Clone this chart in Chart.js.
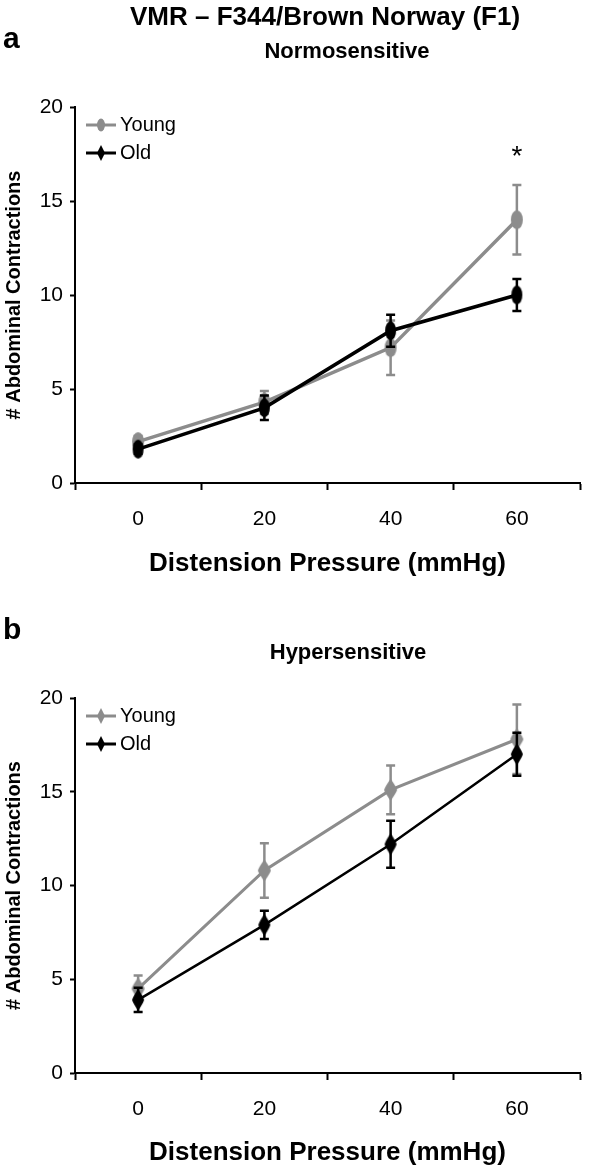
<!DOCTYPE html>
<html><head><meta charset="utf-8">
<script src="https://cdn.jsdelivr.net/npm/chart.js@4/dist/chart.umd.min.js"></script>
<style>
html,body{margin:0;padding:0;background:#fff;}
#wrap{position:relative;width:594px;height:1169px;overflow:hidden;}
.c{position:absolute;left:0;width:594px;}
</style></head><body>
<div id="wrap">
<div class="c" style="top:0;height:590px"><canvas id="c1"></canvas></div>
<div class="c" style="top:590px;height:579px"><canvas id="c2"></canvas></div>
</div>
<script>
// ---- data ----
const categories = ['0', '20', '40', '60'];
const seriesNames = ['Young', 'Old'];
const normYoung = [2.2, 4.3, 7.2, 14.0];
const normYoungErr = [0.3, 0.6, 1.45, 1.85];
const normOld = [1.8, 4.0, 8.1, 10.0];
const normOldErr = [0.25, 0.65, 0.85, 0.85];
const hyperYoung = [4.5, 10.8, 15.1, 17.8];
const hyperYoungErr = [0.7, 1.45, 1.3, 1.85];
const hyperOld = [3.9, 7.9, 12.2, 17.0];
const hyperOldErr = [0.65, 0.75, 1.25, 1.15];
const normSignificance = [null, null, null, 17.3];   // '*' above 60 mmHg
const yMin = 0, yMax = 20, yStep = 5;

const FONT = "'Liberation Sans', Arial, Helvetica, sans-serif";
const GRAY = '#8c8c8c';
const BLACK = '#000000';

function makeMarker(shape, color, w, h) {
  const c = document.createElement('canvas');
  c.width = w + 2; c.height = h + 2;
  const g = c.getContext('2d');
  g.fillStyle = color;
  const cx = c.width / 2, cy = c.height / 2;
  g.beginPath();
  if (shape === 'ellipse') {
    g.ellipse(cx, cy, w / 2, h / 2, 0, 0, Math.PI * 2);
  } else {
    g.moveTo(cx, cy - h / 2);
    g.quadraticCurveTo(cx + w * 0.45, cy - h * 0.12, cx + w / 2, cy);
    g.quadraticCurveTo(cx + w * 0.45, cy + h * 0.12, cx, cy + h / 2);
    g.quadraticCurveTo(cx - w * 0.45, cy + h * 0.12, cx - w / 2, cy);
    g.quadraticCurveTo(cx - w * 0.45, cy - h * 0.12, cx, cy - h / 2);
  }
  g.closePath();
  g.fill();
  return c;
}
function makeLegendIcon(shape, color, lw) {
  const c = document.createElement('canvas');
  c.width = 39; c.height = 18;
  const g = c.getContext('2d');
  g.strokeStyle = color; g.lineWidth = lw;
  g.beginPath(); g.moveTo(9, 9); g.lineTo(39, 9); g.stroke();
  g.fillStyle = color;
  g.beginPath();
  if (shape === 'ellipse') {
    g.ellipse(24, 9, 4, 6.5, 0, 0, Math.PI * 2);
  } else {
    g.moveTo(24, 1); g.lineTo(28, 9); g.lineTo(24, 17); g.lineTo(20, 9);
  }
  g.closePath(); g.fill();
  return c;
}

// keep the in-plot legend at the top-left of the chart area
const legendInAreaPlugin = {
  id: 'legendInArea',
  afterLayout(chart) {
    const lg = chart.legend, ca = chart.chartArea;
    if (!lg) return;
    lg.top = ca.top; lg.bottom = ca.bottom; lg.left = ca.left;
    lg.height = ca.bottom - ca.top;
  }
};

const errorBarPlugin = {
  id: 'errorBars',
  beforeDatasetDraw(chart, args) {
    const ds = chart.data.datasets[args.index];
    if (!ds.errors) return;
    const ys = chart.scales.y;
    const ctx = chart.ctx;
    ctx.save();
    ctx.strokeStyle = ds.borderColor;
    ctx.lineWidth = ds.errorWidth || 2.5;
    args.meta.data.forEach((pt, i) => {
      const v = ds.data[i], e = ds.errors[i];
      if (v == null || e == null) return;
      const yt = ys.getPixelForValue(v + e), yb = ys.getPixelForValue(v - e);
      const hw = 4.5;
      ctx.beginPath();
      ctx.moveTo(pt.x, yt); ctx.lineTo(pt.x, yb);
      ctx.moveTo(pt.x - hw, yt); ctx.lineTo(pt.x + hw, yt);
      ctx.moveTo(pt.x - hw, yb); ctx.lineTo(pt.x + hw, yb);
      ctx.stroke();
    });
    ctx.restore();
  }
};

const textPlugin = {
  id: 'texts',
  afterDraw(chart, args, opts) {
    const ctx = chart.ctx;
    ctx.save();
    ctx.fillStyle = '#000';
    ctx.textBaseline = 'middle';
    (opts.items || []).forEach(t => {
      ctx.font = `bold ${t.size}px ${FONT}`;
      ctx.textAlign = t.align || 'center';
      ctx.fillText(t.text, t.x, t.y);
    });
    if (opts.sig) {
      const xs = chart.scales.x, ys = chart.scales.y;
      ctx.font = `28px ${FONT}`;
      ctx.textAlign = 'center';
      opts.sig.forEach((v, i) => {
        if (v == null) return;
        ctx.fillText('*', xs.getPixelForValue(i), ys.getPixelForValue(v));
      });
    }
    ctx.restore();
  }
};

function makeChart(id, cfg) {
  const icons = [makeLegendIcon(cfg.youngShape, GRAY, 3), makeLegendIcon('diamond', BLACK, 3)];
  return new Chart(document.getElementById(id), {
    type: 'line',
    data: {
      labels: categories,
      datasets: [
        { label: seriesNames[0], data: cfg.young, errors: cfg.youngErr, borderColor: GRAY, backgroundColor: GRAY,
          borderWidth: cfg.lwY, pointStyle: makeMarker(cfg.youngShape, GRAY, cfg.mw, cfg.mh), pointRadius: 6,
          errorWidth: 2.5, order: 1 },
        { label: seriesNames[1], data: cfg.old, errors: cfg.oldErr, borderColor: BLACK, backgroundColor: BLACK,
          borderWidth: cfg.lwO, pointStyle: makeMarker(cfg.oldShape, BLACK, cfg.mw - 1, cfg.mh), pointRadius: 6,
          errorWidth: 2.5, order: 0 }
      ]
    },
    options: {
      responsive: true, maintainAspectRatio: false, animation: false,
      layout: { padding: { left: 0, right: 14, top: cfg.top, bottom: 0 } },
      plugins: {
        title: { display: false },
        tooltip: { enabled: false },
        legend: {
          position: 'chartArea', align: 'start',
          labels: {
            usePointStyle: true, pointStyleWidth: 27, padding: 8, color: '#000',
            font: { family: FONT, size: 20 },
            sort: (a, b) => a.datasetIndex - b.datasetIndex,
            generateLabels(chart) {
              const items = Chart.defaults.plugins.legend.labels.generateLabels(chart);
              items.forEach(it => { it.pointStyle = icons[it.datasetIndex]; });
              return items;
            }
          }
        },
        texts: { items: cfg.texts, sig: cfg.sig }
      },
      scales: {
        x: {
          type: 'category', offset: true,
          grid: { offset: true, drawOnChartArea: false, tickLength: 7, tickWidth: 2, tickColor: '#000' },
          border: { color: '#000', width: 2 },
          ticks: { color: '#000', font: { family: FONT, size: 21 }, padding: 17 },
          title: { display: true, text: 'Distension Pressure (mmHg)', color: '#000',
                   font: { family: FONT, size: 26, weight: 'bold' }, padding: { top: 0, bottom: cfg.xTitlePad } },
          afterFit(s) { s.height = cfg.xH; }
        },
        y: {
          min: yMin, max: yMax,
          ticks: { stepSize: yStep, color: '#000', font: { family: FONT, size: 21 }, padding: 7 },
          grid: { drawOnChartArea: false, tickLength: 5, tickWidth: 2, tickColor: '#000' },
          border: { color: '#000', width: 2 },
          title: { display: true, text: '# Abdominal Contractions', color: '#000',
                   font: { family: FONT, size: 20, weight: 'bold' }, padding: { top: 2, bottom: 0 } },
          afterFit(s) { s.width = 75; }
        }
      }
    },
    plugins: [legendInAreaPlugin, errorBarPlugin, textPlugin]
  });
}

makeChart('c1', {
  young: normYoung, youngErr: normYoungErr, old: normOld, oldErr: normOldErr,
  youngShape: 'ellipse', oldShape: 'ellipse', mw: 12, mh: 19, lwY: 3.5, lwO: 3.5,
  top: 107, xH: 107, xTitlePad: 11, sig: normSignificance,
  texts: [
    { text: 'VMR \u2013 F344/Brown Norway (F1)', size: 26, x: 325, y: 18 },
    { text: 'a', size: 30, x: 3, y: 40, align: 'left' },
    { text: 'Normosensitive', size: 22, x: 347, y: 52 }
  ]
});
makeChart('c2', {
  young: hyperYoung, youngErr: hyperYoungErr, old: hyperOld, oldErr: hyperOldErr,
  youngShape: 'diamond', oldShape: 'diamond', mw: 13, mh: 22, lwY: 3, lwO: 2.5,
  top: 108, xH: 96, xTitlePad: 1, sig: null,
  texts: [
    { text: 'b', size: 30, x: 3, y: 41, align: 'left' },
    { text: 'Hypersensitive', size: 22, x: 348, y: 63 }
  ]
});
</script>
</body></html>
